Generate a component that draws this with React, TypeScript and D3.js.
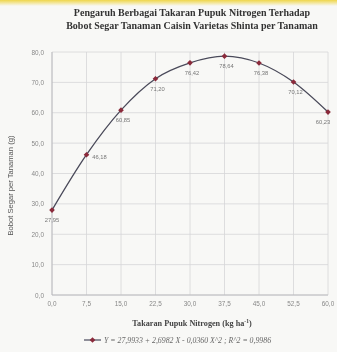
import React from "react";
import * as d3 from "d3";

// takaran pupuk N (kg/ha) dan bobot segar per tanaman (g)
const dosis = [0, 7.5, 15, 22.5, 30, 37.5, 45, 52.5, 60];
const bobot = [27.95, 46.18, 60.85, 71.2, 76.42, 78.64, 76.38, 70.12, 60.23];
const yTicks = [0, 10, 20, 30, 40, 50, 60, 70, 80];
const xTicks = [0, 7.5, 15, 22.5, 30, 37.5, 45, 52.5, 60];

const titleLines = [
  "Pengaruh  Berbagai  Takaran  Pupuk  Nitrogen  Terhadap",
  "Bobot Segar Tanaman  Caisin  Varietas  Shinta  per  Tanaman",
];
const legendText = "Y = 27,9933 + 2,6982 X - 0,0360 X^2 ; R^2 = 0,9986";

const W = 337;
const H = 352;
const m = { left: 52, right: 9, top: 52, bottom: 57 };

const fmt = (v: number, d: number) => v.toFixed(d).replace(".", ",");

export default function App() {
  const x = d3.scaleLinear().domain([0, 60]).range([m.left, W - m.right]);
  const y = d3.scaleLinear().domain([0, 80]).range([H - m.bottom, m.top]);
  const pts = dosis.map((d, i) => [d, bobot[i]] as [number, number]);
  const line = d3
    .line<[number, number]>()
    .x((d) => x(d[0]))
    .y((d) => y(d[1]))
    .curve(d3.curveMonotoneX);

  // posisi label nilai (geser untuk titik awal dan akhir)
  const labelDx = (i: number) => (i === 1 ? 13 : i === 0 ? 0 : i === 8 ? -5 : 2);
  const labelDy = (i: number) => (i === 1 ? 4 : 12);

  return (
    <svg
      width={W}
      height={H}
      style={{ position: "absolute", left: 0, top: 0, background: "#f8f8f6" }}
    >
      <defs>
        <linearGradient id="strip" x1="0" y1="0" x2="0" y2="1">
          <stop offset="0" stopColor="#efd64a" />
          <stop offset="1" stopColor="#f8f8f6" />
        </linearGradient>
        <filter id="soft">
          <feGaussianBlur stdDeviation="0.45" />
        </filter>
      </defs>
      <rect x={0} y={0} width={W} height={6} fill="url(#strip)" />
      <g filter="url(#soft)">
        {titleLines.map((t, i) => (
          <text
            key={i}
            x={192}
            y={16 + i * 13}
            textAnchor="middle"
            fontFamily="Liberation Serif"
            fontWeight="bold"
            fontSize={10}
            fill="#333"
          >
            {t}
          </text>
        ))}

        {/* grid */}
        {yTicks.map((t) => (
          <line
            key={"gy" + t}
            x1={m.left}
            x2={W - m.right}
            y1={y(t)}
            y2={y(t)}
            stroke="#d6d6d8"
            strokeWidth={0.8}
          />
        ))}
        {xTicks.map((t) => (
          <line
            key={"gx" + t}
            x1={x(t)}
            x2={x(t)}
            y1={y(0)}
            y2={y(80)}
            stroke="#d6d6d8"
            strokeWidth={0.8}
          />
        ))}
        <line x1={m.left} x2={m.left} y1={y(0)} y2={y(80)} stroke="#b8b8bc" strokeWidth={0.9} />
        <line x1={m.left} x2={W - m.right} y1={y(0)} y2={y(0)} stroke="#b8b8bc" strokeWidth={0.9} />

        {yTicks.map((t) => (
          <text
            key={"ty" + t}
            x={m.left - 8}
            y={y(t) + 2.5}
            textAnchor="end"
            fontFamily="Liberation Sans"
            fontSize={6.4}
            fill="#888"
          >
            {fmt(t, 1)}
          </text>
        ))}
        {xTicks.map((t) => (
          <text
            key={"tx" + t}
            x={x(t)}
            y={y(0) + 11}
            textAnchor="middle"
            fontFamily="Liberation Sans"
            fontSize={6.4}
            fill="#888"
          >
            {fmt(t, 1)}
          </text>
        ))}

        <text
          transform={`translate(13,${(y(0) + y(80)) / 2 + 12}) rotate(-90)`}
          textAnchor="middle"
          fontFamily="Liberation Sans"
          fontSize={7.6}
          fill="#555"
        >
          Bobot Segar per Tanaman (g)
        </text>

        <path d={line(pts) || ""} fill="none" stroke="#4a4a5a" strokeWidth={1.3} />
        {pts.map((p, i) => (
          <rect
            key={"p" + i}
            x={x(p[0]) - 2}
            y={y(p[1]) - 2}
            width={4}
            height={4}
            transform={`rotate(45 ${x(p[0])} ${y(p[1])})`}
            fill="#8a2a3a"
          />
        ))}
        {pts.map((p, i) => (
          <text
            key={"l" + i}
            x={x(p[0]) + labelDx(i)}
            y={y(p[1]) + labelDy(i)}
            textAnchor="middle"
            fontFamily="Liberation Sans"
            fontSize={5.8}
            fill="#777"
          >
            {fmt(p[1], 2)}
          </text>
        ))}

        <text
          x={192}
          y={326}
          textAnchor="middle"
          fontFamily="Liberation Serif"
          fontWeight="bold"
          fontSize={8.2}
          fill="#444"
        >
          Takaran Pupuk Nitrogen (kg ha
          <tspan dy={-3} fontSize={5.5}>-1</tspan>
          <tspan dy={3}>)</tspan>
        </text>

        <line x1={84} x2={101} y1={340} y2={340} stroke="#4a4a5a" strokeWidth={1.2} />
        <rect x={90.5} y={338} width={4} height={4} transform="rotate(45 92.5 340)" fill="#8a2a3a" />
        <text
          x={104}
          y={342.5}
          fontFamily="Liberation Serif"
          fontStyle="italic"
          fontSize={7.8}
          fill="#666"
        >
          {legendText}
        </text>
      </g>
    </svg>
  );
}
